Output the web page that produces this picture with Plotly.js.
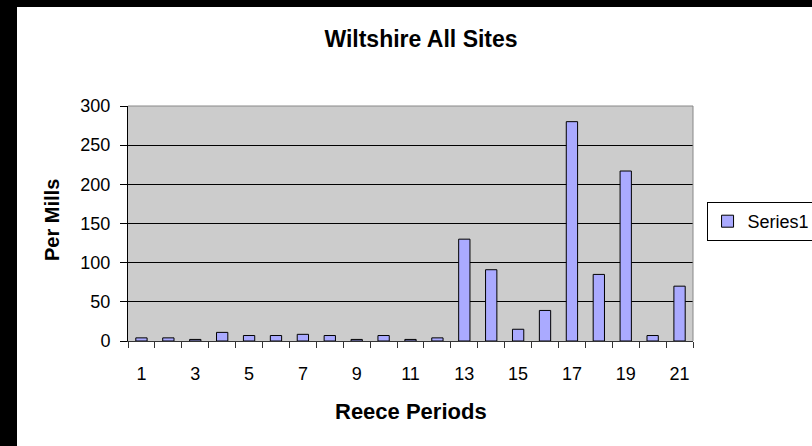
<!DOCTYPE html>
<html>
<head>
<meta charset="utf-8">
<script src="https://cdn.plot.ly/plotly-3.0.1.min.js"></script>
<style>
  html, body { margin: 0; padding: 0; background: #000; width: 812px; height: 446px; overflow: hidden; }
  #chart { position: absolute; left: 17px; top: 7px; width: 840px; height: 439px; background: #fff; }
</style>
</head>
<body>
<div id="chart"></div>
<script>
// Reece periods (categories)
const periods = [1, 2, 3, 4, 5, 6, 7, 8, 9, 10, 11, 12, 13, 14, 15, 16, 17, 18, 19, 20, 21];
// Series1 values (per mills)
const series1 = [4, 4, 2, 11, 7, 7, 8.5, 7, 2, 7, 2, 4, 130, 91, 15, 39, 280, 85, 217, 7, 70];
// X tick labels shown
const xTickLabels = ['1', '3', '5', '7', '9', '11', '13', '15', '17', '19', '21'];
const yTickLabels = ['0', '50', '100', '150', '200', '250', '300'];

const xTickVals = xTickLabels.map(Number);
const yTickVals = yTickLabels.map(Number);
const boundaries = periods.map(p => p - 0.5).concat([periods[periods.length - 1] + 0.5]);

const font = 'Arial, "Liberation Sans", sans-serif';

const trace = {
  type: 'bar',
  name: 'Series1',
  x: periods,
  y: series1,
  width: 0.42,
  marker: { color: '#AAAAFF', line: { color: '#000000', width: 1 } },
  hoverinfo: 'x+y'
};

const layout = {
  width: 840,
  height: 439,
  margin: { l: 111, r: 164, t: 99, b: 105, autoexpand: false },
  paper_bgcolor: '#ffffff',
  plot_bgcolor: '#CCCCCC',
  font: { family: font, color: '#000', size: 18 },
  title: {
    text: '<b>Wiltshire All Sites</b>',
    font: { family: font, size: 23, color: '#000' },
    xref: 'container', x: 404 / 840, xanchor: 'center',
    yref: 'container', y: 0.927, yanchor: 'middle'
  },
  showlegend: true,
  legend: {
    x: 1.024, xanchor: 'left', y: 0.5085, yanchor: 'middle',
    bordercolor: '#000', borderwidth: 1, bgcolor: '#fff',
    itemwidth: 30,
    font: { family: font, size: 18, color: '#000' }
  },
  xaxis: {
    type: 'linear',
    range: [0.5, 21.5],
    tickmode: 'array',
    tickvals: xTickVals,
    ticktext: xTickLabels,
    ticks: '',
    ticklabelstandoff: 16,
    showgrid: false,
    zeroline: false,
    showline: true,
    linecolor: '#333333',
    linewidth: 1,
    tickfont: { family: font, size: 18, color: '#000' },
    minor: { tickmode: 'array', tickvals: boundaries, ticks: 'outside', ticklen: 6, tickcolor: '#333333', tickwidth: 1, showgrid: false },
    fixedrange: true
  },
  yaxis: {
    range: [0, 300],
    tickmode: 'array',
    tickvals: yTickVals,
    ticktext: yTickLabels,
    ticks: 'outside',
    ticklen: 7,
    tickcolor: '#000',
    ticklabelstandoff: 6,
    showgrid: true,
    gridcolor: '#000000',
    gridwidth: 1,
    zeroline: false,
    showline: true,
    linecolor: '#000000',
    linewidth: 1,
    tickfont: { family: font, size: 18, color: '#000' },
    fixedrange: true
  },
  annotations: [
    {
      text: '<b>Reece Periods</b>', xref: 'paper', yref: 'paper',
      x: 0.5, y: -0.298, xanchor: 'center', yanchor: 'middle', showarrow: false,
      font: { family: font, size: 22, color: '#000' }
    },
    {
      text: '<b>Per Mills</b>', xref: 'paper', yref: 'paper',
      x: -0.1345, y: 0.515, xanchor: 'center', yanchor: 'middle', showarrow: false,
      textangle: -90,
      font: { family: font, size: 20, color: '#000' }
    }
  ],
  shapes: [
    { type: 'line', xref: 'paper', yref: 'paper', x0: 0, x1: 1, y0: 1, y1: 1, line: { color: '#888888', width: 1 }, layer: 'above' },
    { type: 'line', xref: 'paper', yref: 'paper', x0: 1, x1: 1, y0: 0, y1: 1, line: { color: '#888888', width: 1 }, layer: 'above' }
  ],
  bargap: 0.55
};

Plotly.newPlot('chart', [trace], layout, { displayModeBar: false, staticPlot: true });
</script>
</body>
</html>
